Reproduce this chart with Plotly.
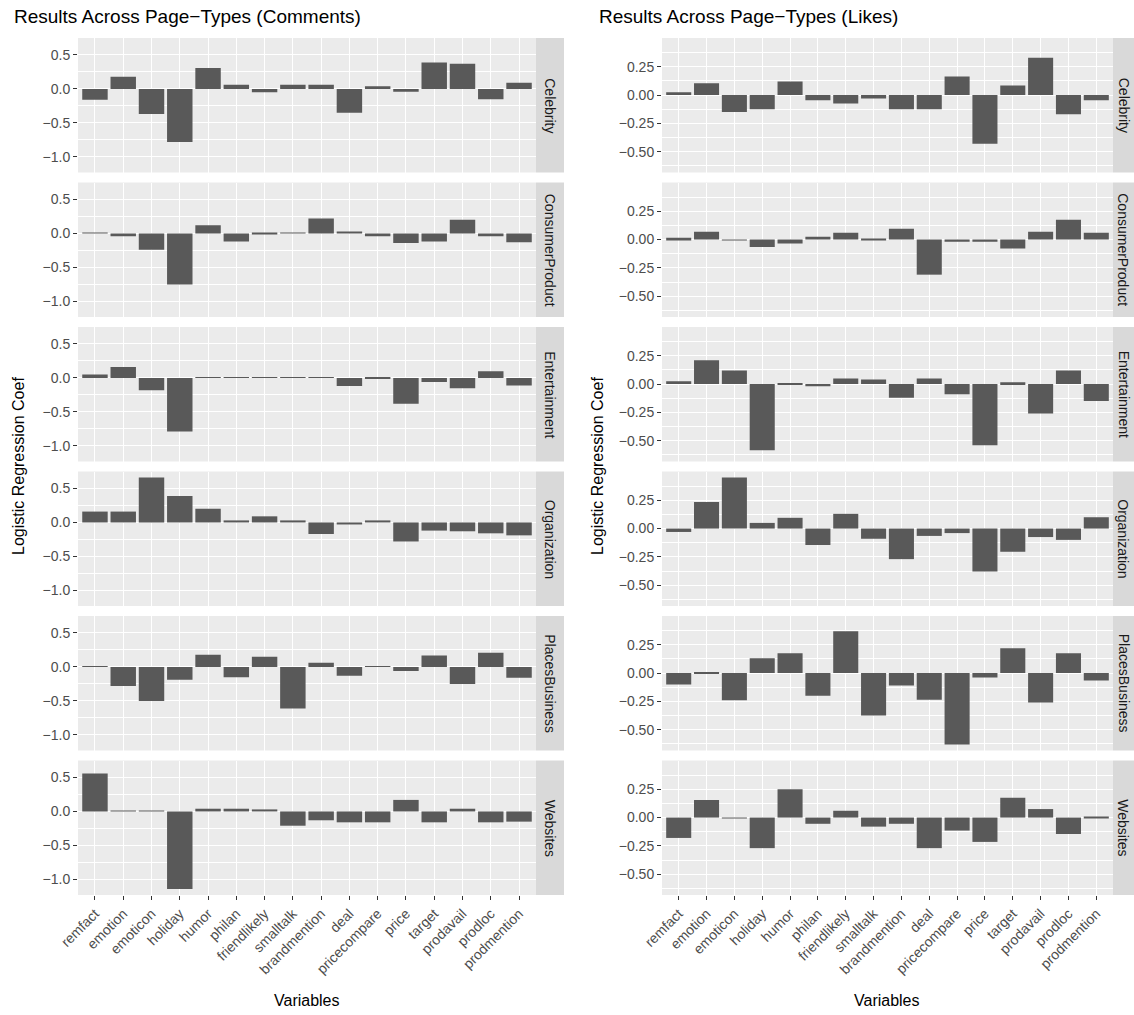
import plotly.graph_objects as go

variables = ["remfact", "emotion", "emoticon", "holiday", "humor", "philan",
             "friendlikely", "smalltalk", "brandmention", "deal", "pricecompare",
             "price", "target", "prodavail", "prodloc", "prodmention"]
page_types = ["Celebrity", "ConsumerProduct", "Entertainment", "Organization",
              "PlacesBusiness", "Websites"]

# Comments coefficients
comments_celebrity = [-0.16, 0.18, -0.37, -0.78, 0.31, 0.06, -0.05, 0.06, 0.06, -0.35, 0.04, -0.04, 0.39, 0.37, -0.15, 0.09]
comments_consumerproduct = [0.01, -0.04, -0.24, -0.75, 0.12, -0.12, -0.01, 0.01, 0.22, 0.03, -0.04, -0.14, -0.12, 0.20, -0.04, -0.13]
comments_entertainment = [0.05, 0.16, -0.18, -0.79, 0.01, 0.01, 0.01, 0.01, 0.01, -0.12, -0.01, -0.38, -0.06, -0.15, 0.10, -0.11]
comments_organization = [0.16, 0.16, 0.66, 0.39, 0.20, 0.03, 0.09, 0.03, -0.17, -0.03, 0.03, -0.28, -0.12, -0.13, -0.16, -0.19]
comments_placesbusiness = [0.01, -0.28, -0.50, -0.19, 0.18, -0.15, 0.15, -0.61, 0.06, -0.13, 0.01, -0.06, 0.17, -0.25, 0.21, -0.16]
comments_websites = [0.56, 0.01, 0.01, -1.14, 0.04, 0.04, 0.03, -0.21, -0.13, -0.16, -0.16, 0.17, -0.16, 0.04, -0.16, -0.15]

# Likes coefficients
likes_celebrity = [0.025, 0.105, -0.15, -0.125, 0.12, -0.045, -0.075, -0.03, -0.125, -0.125, 0.165, -0.43, 0.085, 0.33, -0.17, -0.045]
likes_consumerproduct = [0.015, 0.07, -0.005, -0.065, -0.035, 0.025, 0.06, 0.005, 0.095, -0.31, -0.02, -0.02, -0.08, 0.07, 0.175, 0.06]
likes_entertainment = [0.025, 0.21, 0.12, -0.585, 0.005, -0.02, 0.05, 0.04, -0.12, 0.05, -0.09, -0.54, 0.015, -0.26, 0.12, -0.15]
likes_organization = [-0.03, 0.235, 0.45, 0.05, 0.095, -0.145, 0.13, -0.09, -0.27, -0.065, -0.04, -0.38, -0.205, -0.075, -0.10, 0.10]
likes_placesbusiness = [-0.10, 0.005, -0.24, 0.13, 0.175, -0.20, 0.37, -0.375, -0.11, -0.235, -0.63, -0.04, 0.22, -0.26, 0.175, -0.065]
likes_websites = [-0.18, 0.155, -0.005, -0.27, 0.25, -0.055, 0.06, -0.08, -0.055, -0.27, -0.115, -0.215, 0.175, 0.075, -0.145, 0.005]

comments = [comments_celebrity, comments_consumerproduct, comments_entertainment,
            comments_organization, comments_placesbusiness, comments_websites]
likes = [likes_celebrity, likes_consumerproduct, likes_entertainment,
         likes_organization, likes_placesbusiness, likes_websites]

left_ticks = [0.5, 0.0, -0.5, -1.0]
left_ticktext = ["0.5", "0.0", "\u22120.5", "\u22121.0"]
right_ticks = [0.25, 0.0, -0.25, -0.5]
right_ticktext = ["0.25", "0.00", "\u22120.25", "\u22120.50"]

W, H = 1134, 1015
def px(x):
    return x / W
def py(y):
    return 1 - y / H

def yrange(series):
    vals = [v for s in series for v in s] + [0]
    lo, hi = min(vals), max(vals)
    span = hi - lo
    return [lo - 0.05 * span, hi + 0.05 * span]

FONT = "Liberation Sans, Arial, sans-serif"
top0, ph, gap = 38, 134.5, 10
cols = [
    dict(x0=78, x1=536, s0=536, s1=564, data=comments, ticks=left_ticks, ticktext=left_ticktext,
         minor0=0.25, mdt=0.5, title="Results Across Page\u2212Types (Comments)", tx=12, ytx=18, xt=307),
    dict(x0=662, x1=1113, s0=1113, s1=1134, data=likes, ticks=right_ticks, ticktext=right_ticktext,
         minor0=0.125, mdt=0.25, title="Results Across Page\u2212Types (Likes)", tx=597, ytx=597, xt=887),
]

fig = go.Figure()
layout = {}
shapes = []
annotations = []
n = 0
for c in cols:
    yr = yrange(c["data"])
    for r, pt in enumerate(page_types):
        n += 1
        xa = "x" if n == 1 else f"x{n}"
        ya = "y" if n == 1 else f"y{n}"
        xkey = "xaxis" if n == 1 else f"xaxis{n}"
        ykey = "yaxis" if n == 1 else f"yaxis{n}"
        top = top0 + r * (ph + gap)
        bot = top + ph
        fig.add_trace(go.Bar(x=variables, y=c["data"][r], width=0.9,
                             marker=dict(color="#595959", line=dict(width=0)),
                             xaxis=xa, yaxis=ya, showlegend=False, hoverinfo="x+y"))
        last = (r == len(page_types) - 1)
        layout[xkey] = dict(domain=[px(c["x0"]), px(c["x1"])], anchor=ya, type="category",
                            categoryorder="array", categoryarray=variables,
                            range=[-0.6, len(variables) - 0.4], automargin=False,
                            showgrid=True, gridcolor="white", gridwidth=1.4,
                            zeroline=False, showline=False,
                            showticklabels=last, tickangle=-45,
                            ticks="outside" if last else "", ticklen=4, tickcolor="#333333",
                            tickwidth=1,
                            tickfont=dict(family=FONT, size=14, color="#4D4D4D"))
        layout[ykey] = dict(domain=[py(bot), py(top)], anchor=xa, range=yr, automargin=False,
                            tickmode="array", tickvals=c["ticks"], ticktext=c["ticktext"],
                            showgrid=True, gridcolor="white", gridwidth=1.4,
                            zeroline=False, showline=False,
                            ticks="outside", ticklen=4, tickcolor="#333333", tickwidth=1,
                            tickfont=dict(family=FONT, size=14, color="#4D4D4D"),
                            minor=dict(tickmode="linear", tick0=c["minor0"], dtick=c["mdt"],
                                       showgrid=True, gridcolor="white", gridwidth=0.7,
                                       ticklen=0))
        shapes.append(dict(type="rect", xref="paper", yref="paper",
                           x0=px(c["s0"]), x1=px(c["s1"]), y0=py(bot), y1=py(top),
                           fillcolor="#D9D9D9", line=dict(width=0), layer="below"))
        annotations.append(dict(text=pt, xref="paper", yref="paper",
                                x=px((c["s0"] + c["s1"]) / 2), y=py((top + bot) / 2),
                                textangle=90, showarrow=False,
                                xanchor="center", yanchor="middle",
                                font=dict(family=FONT, size=14, color="#1A1A1A")))
    annotations.append(dict(text=c["title"], xref="paper", yref="paper",
                            x=px(c["tx"]), y=py(16), xanchor="left", yanchor="middle",
                            showarrow=False, font=dict(family=FONT, size=19, color="black")))
    annotations.append(dict(text="Logistic Regression Coef", xref="paper", yref="paper",
                            x=px(c["ytx"]), y=py(466), textangle=-90, showarrow=False,
                            xanchor="center", yanchor="middle",
                            font=dict(family=FONT, size=16, color="black")))
    annotations.append(dict(text="Variables", xref="paper", yref="paper",
                            x=px(c["xt"]), y=py(1000), showarrow=False,
                            xanchor="center", yanchor="middle",
                            font=dict(family=FONT, size=16, color="black")))

fig.update_layout(width=W, height=H, margin=dict(l=0, r=0, t=0, b=0, autoexpand=False),
                  paper_bgcolor="white", plot_bgcolor="#EBEBEB",
                  bargap=0.1, shapes=shapes, annotations=annotations,
                  font=dict(family=FONT), **layout)
fig.write_html("out.html", config={"displayModeBar": False},
               post_script="document.body.style.margin='0';document.body.style.overflow='hidden';")
